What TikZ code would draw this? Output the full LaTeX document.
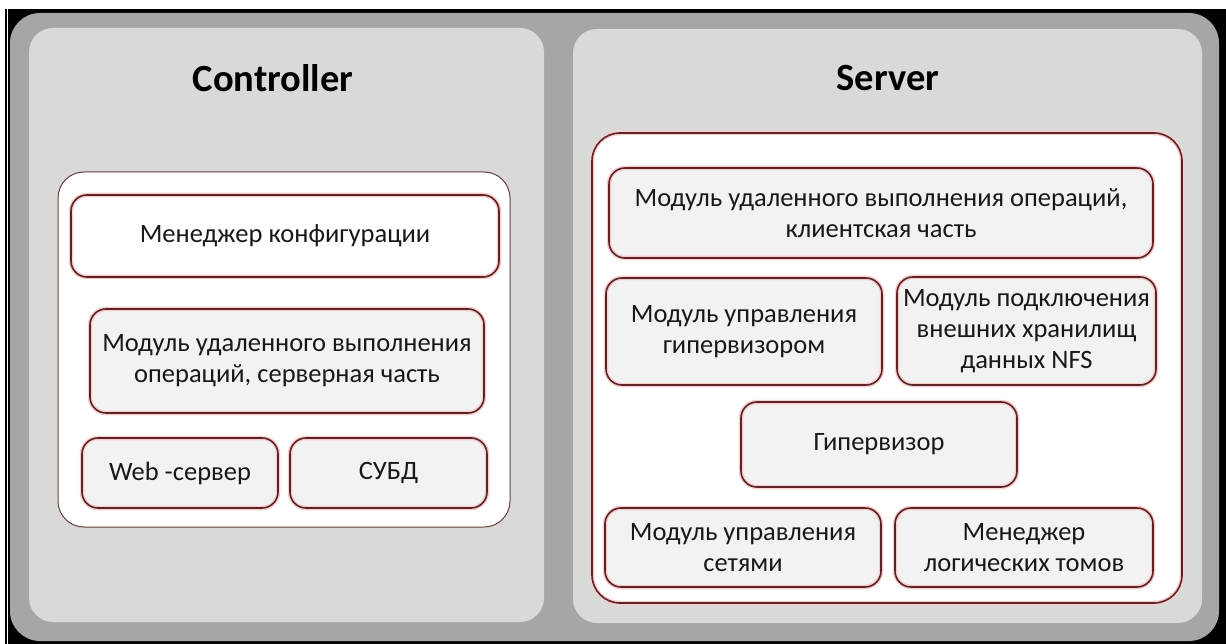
\documentclass[tikz,border=0pt]{standalone}
\usepackage{fontspec}
\setmainfont{Carlito}
\definecolor{framegray}{RGB}{166,166,166}
\definecolor{panelgray}{RGB}{217,218,215}
\definecolor{modfill}{RGB}{242,242,242}
\definecolor{edge}{RGB}{92,36,38}
\definecolor{halo}{RGB}{246,206,206}
\definecolor{ink}{RGB}{24,24,24}

\begin{document}
\begin{tikzpicture}[x=1pt,y=-1pt,
  panel/.style={rectangle,rounded corners=24pt,fill=panelgray,inner sep=0pt},
  group/.style={rectangle,rounded corners=28pt,fill=white,inner sep=0pt,
    postaction={draw=halo,line width=4.5pt},postaction={draw=edge,line width=1.6pt}},
  module/.style={rectangle,rounded corners=16pt,fill=modfill,align=center,text=ink,
    font=\fontsize{26.5}{31}\selectfont,
    postaction={draw=halo,line width=4.5pt},postaction={draw=edge,line width=1.6pt}},
  title/.style={font=\fontsize{38.5}{46}\selectfont\bfseries,text=black}]

  \useasboundingbox (0,0) rectangle (1226,644);
  \fill[white] (0,0) rectangle (1226,644);
  \fill[black] (5,9) rectangle (1226,644);
  \draw[white,line width=1pt] (7.5,9) -- (7.5,644);
  \fill[framegray,rounded corners=30pt] (10,13) rectangle (1219,641);

  % controller side
  \node[panel,minimum width=515pt,minimum height=594pt] (ctrl) at (286.5,325) {};
  \node[title] (ctrltitle) at (273,78) {Controller};
  \node[rectangle,rounded corners=26pt,fill=white,draw=edge!70!gray,line width=1pt,
    minimum width=452pt,minimum height=355pt] (cgroup) at (284,349.5) {};
  \node[module,fill=white,minimum width=428pt,minimum height=82pt] (cfg) at (285,236) {Менеджер конфигурации};
  \node[module,minimum width=394pt,minimum height=104pt] (rsrv) at (287,361) {Модуль удаленного выполнения\\операций, серверная часть};
  \node[module,minimum width=196pt,minimum height=70pt] (web) at (180,473) {Web -сервер};
  \node[module,minimum width=197pt,minimum height=70pt] (db) at (388.5,473) {СУБД};

  % server side
  \node[panel,minimum width=629pt,minimum height=594pt] (srv) at (887.5,326) {};
  \node[title] (srvtitle) at (888,78) {Server};
  \node[group,minimum width=590pt,minimum height=470pt] (sgroup) at (887,368) {};
  \node[module,minimum width=544pt,minimum height=90pt] (rcli) at (881,213) {Модуль удаленного выполнения операций,\\клиентская часть};
  \node[module,minimum width=276pt,minimum height=107pt] (hvm) at (744,331.5) {Модуль управления\\гипервизором};
  \node[module,minimum width=259pt,minimum height=108pt] (nfs) at (1026.5,331) {Модуль подключения\\внешних хранилищ\\данных NFS};
  \node[module,minimum width=276pt,minimum height=85pt] (hv) at (879,444.5) {Гипервизор};
  \node[module,minimum width=276pt,minimum height=79pt] (net) at (743,547.5) {Модуль управления\\сетями};
  \node[module,minimum width=258pt,minimum height=79pt] (lvm) at (1024,547.5) {Менеджер\\логических томов};

\end{tikzpicture}
\end{document}
